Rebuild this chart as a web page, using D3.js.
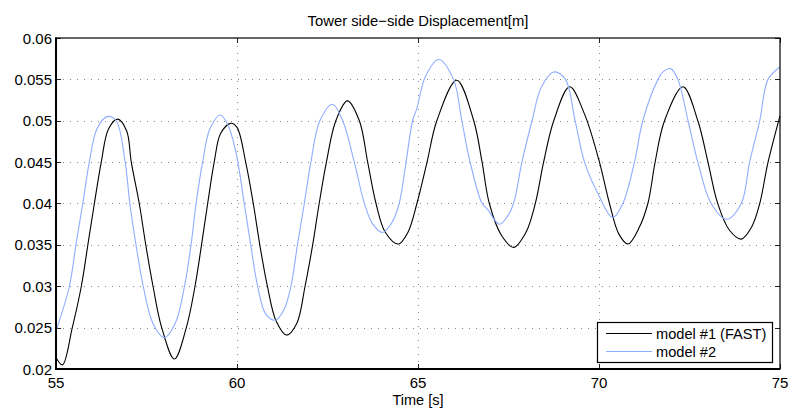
<!DOCTYPE html>
<html>
<head>
<meta charset="utf-8">
<script src="https://cdn.jsdelivr.net/npm/d3@7"></script>
<style>
  body { margin: 0; background: white; }
  text { font-family: "Liberation Sans", Arial, sans-serif; fill: #000; }
</style>
</head>
<body>
<div id="container"></div>
<script>
const WIDTH = 789;
const HEIGHT = 412;
const MARGIN = { top: 38, right: 9, bottom: 43, left: 56 };

const xTicks = [55, 60, 65, 70, 75];
const yTicks = [0.02, 0.025, 0.03, 0.035, 0.04, 0.045, 0.05, 0.055, 0.06];
const seriesNames = ['model #1 (FAST)', 'model #2'];
const seriesColors = ['#000000', '#8fadff'];

// model #1 (FAST), [time, displacement]
const model1 = [
  [55.00, 0.0214], [55.18, 0.0205], [55.45, 0.0250], [55.70, 0.0300], [55.88, 0.0350],
  [56.06, 0.0400], [56.25, 0.0450], [56.45, 0.0490], [56.70, 0.0502], [56.95, 0.0488],
  [57.08, 0.0450], [57.30, 0.0400], [57.48, 0.0350], [57.68, 0.0300], [57.92, 0.0250],
  [58.27, 0.0212], [58.60, 0.0250], [58.84, 0.0300], [59.02, 0.0350], [59.19, 0.0400],
  [59.37, 0.0450], [59.55, 0.0485], [59.83, 0.0497], [60.00, 0.0492], [60.24, 0.0450],
  [60.45, 0.0400], [60.63, 0.0350], [60.84, 0.0300], [61.08, 0.0258], [61.37, 0.0241],
  [61.65, 0.0255], [61.88, 0.0300], [62.09, 0.0350], [62.27, 0.0400], [62.47, 0.0450],
  [62.73, 0.0500], [63.05, 0.0524], [63.38, 0.0500], [63.61, 0.0450], [63.84, 0.0400],
  [64.10, 0.0365], [64.46, 0.0351], [64.72, 0.0365], [64.97, 0.0400], [65.25, 0.0450],
  [65.52, 0.0500], [66.07, 0.0549], [66.54, 0.0500], [66.77, 0.0450], [66.97, 0.0400],
  [67.30, 0.0362], [67.64, 0.0347], [67.98, 0.0365], [68.24, 0.0400], [68.47, 0.0450],
  [68.75, 0.0500], [69.19, 0.0541], [69.60, 0.0508], [70.00, 0.0452], [70.29, 0.0400],
  [70.55, 0.0363], [70.80, 0.0351], [71.10, 0.0370], [71.35, 0.0400], [71.55, 0.0450],
  [71.81, 0.0500], [72.32, 0.0541], [72.73, 0.0500], [73.01, 0.0450], [73.28, 0.0400],
  [73.60, 0.0368], [73.93, 0.0357], [74.22, 0.0372], [74.44, 0.0400], [74.67, 0.0450],
  [75.00, 0.0506]
];

// model #2
const model2 = [
  [55.00, 0.0246], [55.37, 0.0300], [55.55, 0.0350], [55.74, 0.0400], [55.92, 0.0450],
  [56.13, 0.0490], [56.41, 0.0505], [56.66, 0.0500], [56.91, 0.0450], [57.04, 0.0400],
  [57.21, 0.0350], [57.41, 0.0300], [57.67, 0.0256], [57.99, 0.0238], [58.30, 0.0256],
  [58.55, 0.0300], [58.73, 0.0350], [58.87, 0.0400], [59.05, 0.0450], [59.25, 0.0490],
  [59.54, 0.0507], [59.75, 0.0495], [59.97, 0.0462], [60.20, 0.0400], [60.38, 0.0350],
  [60.57, 0.0300], [60.80, 0.0266], [61.06, 0.0259], [61.30, 0.0272], [61.49, 0.0300],
  [61.67, 0.0350], [61.86, 0.0400], [62.04, 0.0450], [62.29, 0.0500], [62.64, 0.0520],
  [62.92, 0.0500], [63.24, 0.0450], [63.52, 0.0400], [63.75, 0.0375], [64.02, 0.0365],
  [64.28, 0.0377], [64.48, 0.0400], [64.67, 0.0450], [64.85, 0.0500], [64.97, 0.0515],
  [65.20, 0.0553], [65.57, 0.0574], [65.98, 0.0550], [66.21, 0.0500], [66.44, 0.0450],
  [66.77, 0.0400], [66.90, 0.0394], [67.25, 0.0375], [67.48, 0.0385], [67.64, 0.0400],
  [67.87, 0.0450], [68.15, 0.0500], [68.40, 0.0540], [68.75, 0.0559], [69.07, 0.0550],
  [69.34, 0.0500], [69.60, 0.0450], [69.97, 0.0412], [70.38, 0.0383], [70.66, 0.0400],
  [70.98, 0.0450], [71.21, 0.0500], [71.63, 0.0550], [71.77, 0.0559], [71.98, 0.0563],
  [72.18, 0.0550], [72.46, 0.0500], [72.73, 0.0450], [73.10, 0.0400], [73.52, 0.0381],
  [73.93, 0.0400], [74.16, 0.0450], [74.44, 0.0500], [74.67, 0.0550], [75.00, 0.0565]
];

const svg = d3.select('#container')
  .append('svg')
  .attr('width', WIDTH)
  .attr('height', HEIGHT)
  .style('background-color', 'white');

const x = d3.scaleLinear()
  .domain([55, 75])
  .range([MARGIN.left, WIDTH - MARGIN.right]);

const y = d3.scaleLinear()
  .domain([0.02, 0.06])
  .range([HEIGHT - MARGIN.bottom, MARGIN.top]);

const x0 = x.range()[0], x1 = x.range()[1];
const y0 = y.range()[0], y1 = y.range()[1];

// dotted grid
const grid = svg.append('g')
  .style('stroke', '#8a8a8a')
  .style('stroke-width', 1)
  .style('stroke-dasharray', '1,6');

grid.selectAll('.vgrid')
  .data(xTicks.slice(1, -1))
  .enter().append('line')
  .attr('x1', d => Math.round(x(d)) + 0.5)
  .attr('x2', d => Math.round(x(d)) + 0.5)
  .attr('y1', y0)
  .attr('y2', y1);

grid.selectAll('.hgrid')
  .data(yTicks.slice(1, -1))
  .enter().append('line')
  .attr('x1', x0)
  .attr('x2', x1)
  .attr('y1', d => Math.round(y(d)) + 0.5)
  .attr('y2', d => Math.round(y(d)) + 0.5);

// inward ticks on all four sides
const TICK = 5;
const ticks = svg.append('g').style('stroke', '#222').style('stroke-width', 1);
xTicks.forEach(d => {
  const px = Math.round(x(d)) + 0.5;
  ticks.append('line').attr('x1', px).attr('x2', px).attr('y1', y0).attr('y2', y0 - TICK);
  ticks.append('line').attr('x1', px).attr('x2', px).attr('y1', y1).attr('y2', y1 + TICK);
});
yTicks.forEach(d => {
  const py = Math.round(y(d)) + 0.5;
  ticks.append('line').attr('x1', x0).attr('x2', x0 + TICK).attr('y1', py).attr('y2', py);
  ticks.append('line').attr('x1', x1).attr('x2', x1 - TICK).attr('y1', py).attr('y2', py);
});

// data lines
const line = d3.line()
  .x(d => x(d[0]))
  .y(d => y(d[1]))
  .curve(d3.curveCatmullRom.alpha(0.5));

[model1, model2].forEach((data, i) => {
  svg.append('path')
    .datum(data)
    .attr('d', line)
    .style('fill', 'none')
    .style('stroke', seriesColors[i])
    .style('stroke-width', 1.1);
});

// axes box
svg.append('rect')
  .attr('x', x0)
  .attr('y', y1)
  .attr('width', x1 - x0)
  .attr('height', y0 - y1)
  .style('fill', 'none')
  .style('stroke', '#000')
  .style('stroke-width', 1.2);

svg.append('line')
  .attr('x1', x0).attr('x2', x0).attr('y1', y1 - 0.6).attr('y2', y0 + 1)
  .style('stroke', '#000').style('stroke-width', 2);
svg.append('line')
  .attr('x1', x0 - 1).attr('x2', x1).attr('y1', y0).attr('y2', y0)
  .style('stroke', '#000').style('stroke-width', 2);

// tick labels
svg.append('g')
  .selectAll('text')
  .data(xTicks)
  .enter().append('text')
  .attr('x', d => x(d))
  .attr('y', y0 + 19)
  .attr('text-anchor', 'middle')
  .style('font-size', '15px')
  .text(d => d);

svg.append('g')
  .selectAll('text')
  .data(yTicks)
  .enter().append('text')
  .attr('x', x0 - 4)
  .attr('y', d => y(d) + 5.5)
  .attr('text-anchor', 'end')
  .style('font-size', '15px')
  .text(d => d3.format('')(d));

// title and axis label
svg.append('text')
  .attr('x', (x0 + x1) / 2)
  .attr('y', 26)
  .attr('text-anchor', 'middle')
  .style('font-size', '14.8px')
  .text('Tower side\u2212side Displacement[m]');

svg.append('text')
  .attr('x', (x0 + x1) / 2)
  .attr('y', 405)
  .attr('text-anchor', 'middle')
  .style('font-size', '14.5px')
  .text('Time [s]');

// legend
const legend = svg.append('g');
legend.append('rect')
  .attr('x', 597.5)
  .attr('y', 322.5)
  .attr('width', 175)
  .attr('height', 40)
  .style('fill', 'white')
  .style('stroke', '#000')
  .style('stroke-width', 1.2);

seriesNames.forEach((name, i) => {
  const ly = 333.5 + i * 18;
  legend.append('line')
    .attr('x1', 606)
    .attr('x2', 652)
    .attr('y1', ly)
    .attr('y2', ly)
    .style('stroke', seriesColors[i])
    .style('stroke-width', 1.1);
  legend.append('text')
    .attr('x', 656)
    .attr('y', ly + 5)
    .style('font-size', '14.6px')
    .text(name);
});
</script>
</body>
</html>
